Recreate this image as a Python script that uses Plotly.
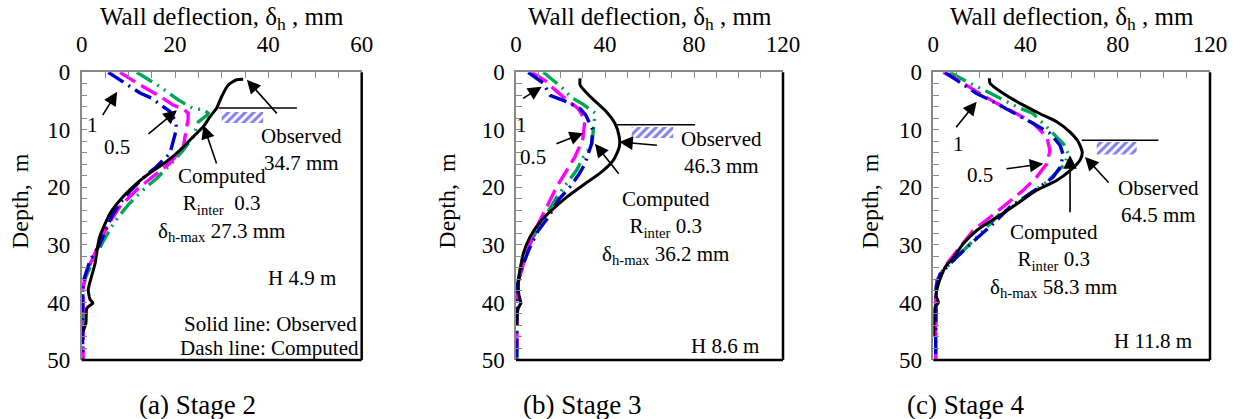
import plotly.graph_objects as go

FONT = "Liberation Serif"

# ---------------- DATA ----------------
# Stage 2 (panel a)
a_obs_d = [1.2, 1.3, 2.2, 4.2, 6.25, 7.7, 9.4, 11.2, 13.5, 15.5, 17.5, 19.3, 21.6, 24.5, 28.5, 30.3, 33.1, 35.5, 37.8, 39.5, 40.1, 41.0, 43.6, 45.0]
a_obs_x = [34.6, 33.2, 31.4, 30.0, 28.9, 27.5, 26.1, 23.9, 21.1, 18.2, 14.6, 11.8, 8.9, 6.1, 3.9, 3.4, 2.9, 2.1, 1.4, 1.8, 2.4, 1.1, 0.9, 0.3]
a_r1_d = [0, 2.2, 3.6, 4.5, 6.8, 8.7, 9.9, 14.1, 16.5, 17.8, 20.7, 22.7, 25.1, 28.5, 30.3, 32.6, 35.5, 36.5, 40, 45, 50]
a_r1_x = [5.7, 10.0, 12.5, 15.0, 18.9, 20.2, 20.3, 18.9, 15.9, 13.9, 10.3, 8.2, 6.4, 4.6, 3.6, 1.8, 0.7, 0.3, 0.2, 0.2, 0.2]
a_r05_d = [0, 2.2, 4.2, 5.7, 6.4, 7.1, 8.3, 9.4, 12.9, 15.8, 18.1, 20.4, 23.3, 26.8, 29.7, 32.0, 35.5, 37.5, 42, 50]
a_r05_x = [8.2, 12.5, 16.8, 19.6, 21.8, 22.8, 22.8, 22.5, 21.8, 18.9, 15.3, 11.8, 8.2, 5.4, 3.9, 2.5, 0.7, 0.3, 0.3, 0.3]
a_r03_d = [0, 2.5, 4.8, 6.3, 6.5, 7.1, 7.5, 8.6, 11.2, 13.5, 16.1, 18.4, 20.4, 23.0, 25.9, 29.4, 32.5, 35.5, 37.5, 42, 50]
a_r03_x = [11.8, 16.8, 20.7, 23.9, 26.1, 27.1, 26.8, 25.0, 23.9, 21.8, 18.9, 16.1, 13.2, 10.0, 7.1, 4.6, 2.6, 0.9, 0.3, 0.2, 0.2]

# Stage 3 (panel b)
b_obs_d = [1.05, 2.2, 4.2, 6.6, 8.9, 11.2, 13.0, 15.3, 17.3, 19.6, 21.7, 23.7, 25.7, 28.6, 31.5, 34.4, 36.8, 38.7, 40.1, 41.0, 43.0, 44.0]
b_obs_x = [28.8, 28.8, 33.3, 40.0, 44.5, 46.4, 46.4, 43.7, 38.5, 30.2, 22.8, 16.8, 11.5, 6.3, 3.3, 1.8, 1.0, 1.3, 2.2, 1.0, 0.3, 0.2]
b_r1_d = [0, 1.9, 4.0, 5.1, 6.3, 7.4, 10.0, 12.4, 14.1, 15.9, 17.9, 19.9, 22.2, 25.2, 27.5, 30.4, 33.9, 36.8, 40, 45, 50]
b_r1_x = [5.5, 12.3, 15.3, 22.8, 28.8, 31.3, 34.5, 34.0, 32.5, 31.0, 28.0, 24.3, 19.0, 14.5, 10.0, 6.3, 2.6, 0.8, 0.4, 0.3, 0.3]
b_r05_d = [0, 1.6, 2.8, 4.8, 6.3, 8.3, 10.6, 11.6, 14.7, 17.0, 19.9, 23.4, 26.3, 29.8, 33.3, 36.8, 40, 45, 50]
b_r05_x = [7.0, 13.8, 16.8, 22.8, 28.0, 31.0, 30.3, 30.0, 26.5, 22.8, 18.3, 13.8, 10.0, 6.3, 3.3, 1.0, 0.5, 0.4, 0.4]
b_r03_d = [0, 2.6, 4.4, 5.6, 7.1, 9.5, 10.6, 12.7, 14.7, 17.0, 19.3, 21.7, 24.6, 27.5, 31.0, 34.4, 37.3, 42, 50]
b_r03_x = [12.3, 20.5, 25.0, 30.3, 35.6, 34.8, 34.8, 34.0, 30.3, 27.3, 22.8, 18.3, 13.8, 9.3, 4.8, 1.8, 0.6, 0.4, 0.4]

# Stage 4 (panel c)
c_obs_d = [1.05, 1.9, 3.7, 5.4, 7.2, 8.6, 10.4, 12.1, 13.9, 15.3, 17.1, 18.8, 20.5, 22.9, 25.2, 27.5, 29.8, 32.2, 33.9, 36.8, 38.8, 40.0, 40.9, 43.2, 46.0]
c_obs_x = [24.3, 24.6, 30.4, 37.6, 46.3, 53.5, 59.3, 62.9, 64.6, 63.6, 59.3, 53.5, 44.8, 36.2, 27.5, 18.8, 13.0, 8.7, 5.1, 2.2, 1.2, 2.2, 0.7, 0.3, 0.2]
c_r1_d = [0, 2.2, 3.7, 4.8, 6.6, 7.8, 8.9, 10.6, 12.7, 14.4, 16.5, 18.2, 19.7, 21.4, 23.4, 26.3, 28.8, 31.0, 33.3, 35.1, 37.4, 42, 50]
c_r1_x = [5.1, 13.0, 18.8, 24.6, 33.3, 38.3, 43.4, 50.6, 55.0, 56.4, 55.0, 52.0, 47.0, 40.5, 33.3, 26.0, 19.0, 13.0, 7.2, 2.9, 1.2, 1.0, 1.0]
c_r05_d = [0, 1.9, 3.7, 5.4, 7.2, 8.9, 11.2, 13.6, 15.9, 18.2, 20.5, 22.9, 25.2, 27.5, 30.4, 33.3, 36.2, 40, 45, 50]
c_r05_x = [4.3, 13.0, 20.2, 27.5, 36.2, 43.4, 49.2, 50.6, 49.2, 44.8, 39.0, 31.8, 24.6, 17.3, 11.6, 5.8, 1.5, 1.0, 1.0, 1.0]
c_r03_d = [0, 2.2, 3.6, 4.7, 6.0, 7.2, 9.5, 12.4, 14.1, 15.9, 19.1, 21.1, 22.9, 24.6, 27.5, 29.8, 32.2, 34.5, 37.4, 42, 50]
c_r03_x = [7.2, 17.3, 24.6, 29.7, 36.2, 43.4, 49.2, 56.4, 58.5, 57.1, 49.2, 41.9, 36.2, 28.9, 21.7, 15.9, 10.1, 4.3, 1.2, 1.0, 1.0]

# tick labels
depth_ticks = [0, 10, 20, 30, 40, 50]
a_x_ticks = [0, 20, 40, 60]
bc_x_ticks = [0, 40, 80, 120]

stage_labels = ["(a) Stage 2", "(b) Stage 3", "(c) Stage 4"]
obs_labels = ["Observed<br>34.7 mm", "Observed<br>46.3 mm", "Observed<br>64.5 mm"]
comp_max = ["27.3", "36.2", "58.3"]
H_labels = ["H 4.9 m", "H 8.6 m", "H 11.8 m"]

# ---------------- LAYOUT ----------------
W, Hpx = 1241, 419
def px_x(p):
    return p / W
def px_y(p):
    return 1 - p / Hpx

x_domains = [[px_x(81.7), px_x(361.7)], [px_x(516), px_x(783)], [px_x(933.3), px_x(1210)]]
y_domain = [px_y(360), px_y(72.3)]
x_ranges = [[0, 60], [0, 120], [0, 120]]
x_ticks = [a_x_ticks, bc_x_ticks, bc_x_ticks]
x_minor = [5, 10, 10]

BLUE = "#0000CC"
MAG = "#FF00FF"
GREEN = "#00A651"

panels = [
    (a_obs_x, a_obs_d, a_r1_x, a_r1_d, a_r05_x, a_r05_d, a_r03_x, a_r03_d),
    (b_obs_x, b_obs_d, b_r1_x, b_r1_d, b_r05_x, b_r05_d, b_r03_x, b_r03_d),
    (c_obs_x, c_obs_d, c_r1_x, c_r1_d, c_r05_x, c_r05_d, c_r03_x, c_r03_d),
]

fig = go.Figure()
layout = dict(width=W, height=Hpx, margin=dict(l=0, r=0, t=0, b=0, pad=0, autoexpand=False), autosize=False,
              paper_bgcolor="white", plot_bgcolor="white", showlegend=False,
              font=dict(family=FONT, size=21, color="black"))
shapes = []
annotations = []

for i, p in enumerate(panels):
    xs = "x" if i == 0 else f"x{i+1}"
    ys = "y" if i == 0 else f"y{i+1}"
    xk = "xaxis" if i == 0 else f"xaxis{i+1}"
    yk = "yaxis" if i == 0 else f"yaxis{i+1}"
    ox, od, x1, d1, x05, d05, x03, d03 = p
    fig.add_trace(go.Scatter(x=x03, y=d03, mode="lines", xaxis=xs, yaxis=ys,
                             line=dict(color=GREEN, width=3.4, dash="18px,6px,2px,6px,2px,6px")))
    fig.add_trace(go.Scatter(x=x05, y=d05, mode="lines", xaxis=xs, yaxis=ys,
                             line=dict(color=MAG, width=3.4, dash="18px,7px")))
    fig.add_trace(go.Scatter(x=x1, y=d1, mode="lines", xaxis=xs, yaxis=ys,
                             line=dict(color=BLUE, width=3.4, dash="18px,6px,2px,6px")))
    fig.add_trace(go.Scatter(x=ox, y=od, mode="lines", xaxis=xs, yaxis=ys,
                             line=dict(color="black", width=3, shape="spline", smoothing=0.6)))

    layout[xk] = dict(domain=x_domains[i], range=x_ranges[i], side="top", anchor=ys, automargin=False,
                      tickvals=x_ticks[i], ticks="inside", ticklen=6, tickwidth=1, tickcolor="#888",
                      minor=dict(dtick=x_minor[i], ticks="inside", ticklen=6, tickwidth=1, tickcolor="#888", showgrid=False),
                      showline=True, linecolor="#888", linewidth=1.5, mirror=False,
                      showgrid=False, zeroline=False, ticklabelstandoff=9,
                      tickfont=dict(family=FONT, size=23, color="black"))
    layout[yk] = dict(domain=y_domain, range=[50, 0], anchor=xs, automargin=False,
                      tickvals=depth_ticks, ticks="inside", ticklen=6, tickwidth=1, tickcolor="#888",
                      minor=dict(dtick=2, ticks="inside", ticklen=6, tickwidth=1, tickcolor="#888", showgrid=False),
                      showline=True, linecolor="#888", linewidth=1.5, mirror=False,
                      showgrid=False, zeroline=False, ticklabelstandoff=5,
                      tickfont=dict(family=FONT, size=23, color="black"))
    shapes.append(dict(type="line", xref=f"{xs} domain", yref=f"{ys} domain", x0=1, x1=1, y0=0, y1=1,
                       line=dict(color="black", width=2.5)))
    shapes.append(dict(type="line", xref=f"{xs} domain", yref=f"{ys} domain", x0=0, x1=1, y0=0, y1=0,
                       line=dict(color="black", width=2.5)))
    xc = (x_domains[i][0] + x_domains[i][1]) / 2
    annotations.append(dict(text="Wall deflection, δ<sub>h</sub> , mm", xref="paper", yref="paper",
                            x=xc, y=px_y(19), showarrow=False, xanchor="center", yanchor="middle",
                            font=dict(size=25)))
    annotations.append(dict(text=stage_labels[i], xref="paper", yref="paper",
                            x=[px_x(197), px_x(581.7), px_x(965)][i], y=px_y(405), showarrow=False,
                            xanchor="center", yanchor="middle", font=dict(size=27)))
    annotations.append(dict(text="Depth,  m", xref="paper", yref="paper",
                            x=[px_x(20), px_x(446.7), px_x(870)][i], y=px_y(201), textangle=-90,
                            showarrow=False, xanchor="center", yanchor="middle", font=dict(size=24)))

layout["shapes"] = shapes

def txt(text, x, y, ax="x", ay="y", xanchor="center", size=21):
    annotations.append(dict(text=text, x=x, y=y, xref=ax, yref=ay, showarrow=False,
                            xanchor=xanchor, yanchor="middle", font=dict(size=size)))

def arrow(x, y, tx, ty, ax="x", ay="y"):
    annotations.append(dict(text="", x=x, y=y, ax=tx, ay=ty, xref=ax, yref=ay, axref=ax, ayref=ay,
                            showarrow=True, arrowhead=2, arrowsize=1.7, arrowwidth=1.6, arrowcolor="black"))

hatch = [
    ("", 30.0, 38.9, 6.9, 8.8, 29.3, 46.1, 6.2),
    ("2", 52.0, 70.7, 9.5, 11.4, 45.3, 80.5, 9.1),
    ("3", 70.9, 88.2, 12.1, 14.3, 64.4, 97.6, 11.8),
]
for k, (s, hx0, hx1, hd0, hd1, lx0, lx1, ld) in enumerate(hatch):
    fig.add_trace(go.Scatter(x=[hx0, hx1, hx1, hx0, hx0], y=[hd0, hd0, hd1, hd1, hd0],
                             xaxis="x" + s, yaxis="y" + s, mode="lines", fill="toself",
                             line=dict(width=0, color="rgba(0,0,0,0)"), fillcolor="white",
                             fillpattern=dict(shape="/", fgcolor="#0000EE", bgcolor="white", size=6, solidity=0.5)))
    shapes.append(dict(type="line", xref="x" + s, yref="y" + s, x0=lx0, x1=lx1, y0=ld, y1=ld,
                       line=dict(color="black", width=1.5)))

# Panel a
txt("1", 2.4, 9.1)
arrow(7.6, 3.4, 4.3, 7.7)
txt("0.5", 7.5, 12.9)
arrow(20.4, 6.6, 14.0, 10.9)
txt(obs_labels[0], 47.2, 13.4)
arrow(35.4, 1.3, 42.1, 7.4)
txt(f"Computed<br>R<sub>inter</sub>  0.3<br>δ<sub>h-max</sub> {comp_max[0]} mm", 30.0, 23.0)
arrow(26.1, 9.2, 29.0, 16.1)
txt(H_labels[0], 47.2, 35.7)
txt("Solid line: Observed", 59.5, 43.7, xanchor="right")
txt("Dash line: Computed", 59.8, 47.9, xanchor="right")

# Panel b
txt("1", 2.5, 9.2, "x2", "y2")
arrow(11.5, 2.5, 2.5, 4.7, "x2", "y2")
txt("0.5", 7.8, 14.7, "x2", "y2")
arrow(30.2, 10.6, 17.5, 12.5, "x2", "y2")
txt(obs_labels[1], 92.4, 13.9, "x2", "y2")
arrow(46.4, 12.1, 64.0, 12.7, "x2", "y2")
txt(f"Computed<br>R<sub>inter</sub> 0.3<br>δ<sub>h-max</sub> {comp_max[1]} mm", 67.0, 27.0, "x2", "y2")
arrow(35.5, 12.4, 46.7, 17.9, "x2", "y2")
txt(H_labels[1], 93.9, 47.5, "x2", "y2")

# Panel c
txt("1", 10.8, 12.4, "x3", "y3")
arrow(18.8, 5.1, 9.4, 9.8, "x3", "y3")
txt("0.5", 20.2, 17.9, "x3", "y3")
arrow(47.7, 15.9, 31.1, 16.8, "x3", "y3")
txt(obs_labels[2], 97.6, 22.5, "x3", "y3")
arrow(65.8, 14.7, 76.6, 19.4, "x3", "y3")
txt(f"Computed<br>R<sub>inter</sub> 0.3<br>δ<sub>h-max</sub> {comp_max[2]} mm", 52.0, 32.7, "x3", "y3")
arrow(59.3, 14.4, 59.3, 24.6, "x3", "y3")
txt(H_labels[2], 95.4, 46.7, "x3", "y3")

layout["annotations"] = annotations
fig.update_layout(**layout)
fig.write_html("out.html")
